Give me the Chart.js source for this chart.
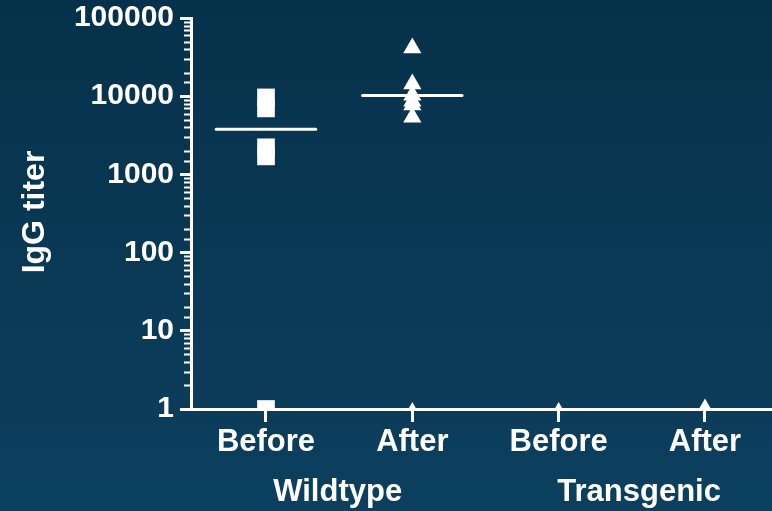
<!DOCTYPE html>
<html>
<head>
<meta charset="utf-8">
<script src="https://cdn.jsdelivr.net/npm/chart.js@4"></script>
<style>
  html, body { margin: 0; padding: 0; }
  body { width: 772px; height: 511px; overflow: hidden;
         background: linear-gradient(to bottom, #06314a 0%, #0c405f 100%); }
  #wrap { position: relative; width: 772px; height: 511px; }
</style>
</head>
<body>
<div id="wrap"><canvas id="c"></canvas></div>
<script>
// Groups, time points and IgG titers per animal
const groups = ['Wildtype', 'Transgenic'];
const timepoints = ['Before', 'After', 'Before', 'After'];
const wildtypeBefore = [9650, 6980, 2220, 1700, 1];
const wildtypeAfter = [41400, 14350, 10310, 8650, 7690, 5400, 0.9];
const transgenicBefore = [0.9];
const transgenicAfter = [1];
const groupMeans = [3770, 10230, null, null];
const yTickValues = [1, 10, 100, 1000, 10000, 100000];

const FONT = 'Liberation Sans, Arial, Helvetica, sans-serif';
const WHITE = '#ffffff';

// Markers are clipped at the axes, so they should not push the plot area inwards
['scatter', 'line'].forEach(name => {
  Chart.registry.getController(name).prototype.getMaxOverflow = function () { return 0; };
});

function pointsAt(xIndex, values) {
  return values.map(v => ({ x: xIndex, y: v }));
}

const seriesByColumn = [wildtypeBefore, wildtypeAfter, transgenicBefore, transgenicAfter];
const columnStyle = ['rect', 'triangle', 'triangle', 'triangle'];
const columnRadius = [12.5, 10.5, 10.5, 10.5];

const datasets = seriesByColumn.map((vals, i) => ({
  type: 'scatter',
  label: groups[Math.floor(i / 2)] + ' ' + timepoints[i],
  data: pointsAt(i, vals),
  pointStyle: columnStyle[i],
  pointRadius: columnRadius[i],
  pointHoverRadius: columnRadius[i],
  backgroundColor: WHITE,
  borderColor: WHITE,
  borderWidth: 0,
  clip: { left: false, top: false, right: false, bottom: 0 }
}));

// Horizontal bar marking each column's central value
const halfBar = 0.34;
groupMeans.forEach((m, i) => {
  if (m == null) return;
  datasets.push({
    type: 'line',
    label: 'mean ' + i,
    data: [{ x: i - halfBar, y: m }, { x: i + halfBar, y: m }],
    borderColor: WHITE,
    borderWidth: 3,
    borderCapStyle: 'round',
    pointRadius: 0,
    fill: false,
    clip: false
  });
});

// Short minor tick marks on the log axis, and group captions under the columns
const extras = {
  id: 'extras',
  afterDraw(chart) {
    const ctx = chart.ctx;
    const y = chart.scales.y;
    const x = chart.scales.x;
    ctx.save();
    ctx.strokeStyle = WHITE;
    ctx.lineWidth = 2;
    y.ticks.forEach(t => {
      if (yTickValues.includes(t.value)) return;
      const py = Math.round(y.getPixelForValue(t.value)) + 0.5;
      ctx.beginPath();
      ctx.moveTo(y.right - 7, py);
      ctx.lineTo(y.right, py);
      ctx.stroke();
    });

    ctx.fillStyle = WHITE;
    ctx.font = 'bold 31px ' + FONT;
    ctx.textAlign = 'center';
    ctx.textBaseline = 'alphabetic';
    const captionAt = [0.49, 2.55];
    groups.forEach((g, i) => {
      ctx.fillText(g, x.getPixelForValue(captionAt[i]), 501);
    });

    ctx.font = 'bold 32px ' + FONT;
    ctx.translate(44, 212);
    ctx.rotate(-Math.PI / 2);
    ctx.fillText('IgG titer', 0, 0);
    ctx.restore();
  }
};

new Chart(document.getElementById('c'), {
  data: { datasets },
  plugins: [extras],
  options: {
    responsive: true,
    maintainAspectRatio: false,
    animation: false,
    events: [],
    layout: { padding: { top: 18, right: 0, bottom: 0, left: 0 } },
    plugins: { legend: { display: false }, tooltip: { enabled: false } },
    scales: {
      x: {
        type: 'linear',
        min: -0.5125,
        max: 3.458,
        afterFit(scale) {
          scale.height = 102;
          scale.paddingLeft = 0;
          scale.paddingRight = 0;
        },
        afterBuildTicks(scale) {
          scale.ticks = timepoints.map((_, i) => ({ value: i }));
        },
        ticks: {
          color: WHITE,
          font: { family: FONT, size: 31, weight: 'bold' },
          padding: 2,
          maxRotation: 0,
          autoSkip: false,
          callback: (v) => timepoints[v] ?? ''
        },
        grid: {
          drawOnChartArea: false,
          drawTicks: true,
          tickLength: 13,
          tickWidth: 3,
          tickColor: WHITE
        },
        border: { display: true, color: WHITE, width: 3 }
      },
      y: {
        type: 'logarithmic',
        min: 1,
        max: 100000,
        afterFit(scale) {
          scale.width = 191;
          scale.paddingTop = 0;
          scale.paddingBottom = 0;
        },
        ticks: {
          color: WHITE,
          font: { family: FONT, size: 30, weight: 'bold' },
          padding: 6,
          autoSkip: false,
          callback: (v) => yTickValues.includes(v) ? String(v) : ''
        },
        grid: {
          drawOnChartArea: false,
          drawTicks: true,
          tickLength: 11,
          tickWidth: 3,
          tickColor: (c) => (c.tick && yTickValues.includes(c.tick.value)) ? WHITE : 'rgba(0,0,0,0)'
        },
        border: { display: true, color: WHITE, width: 3 }
      }
    }
  }
});
</script>
</body>
</html>
